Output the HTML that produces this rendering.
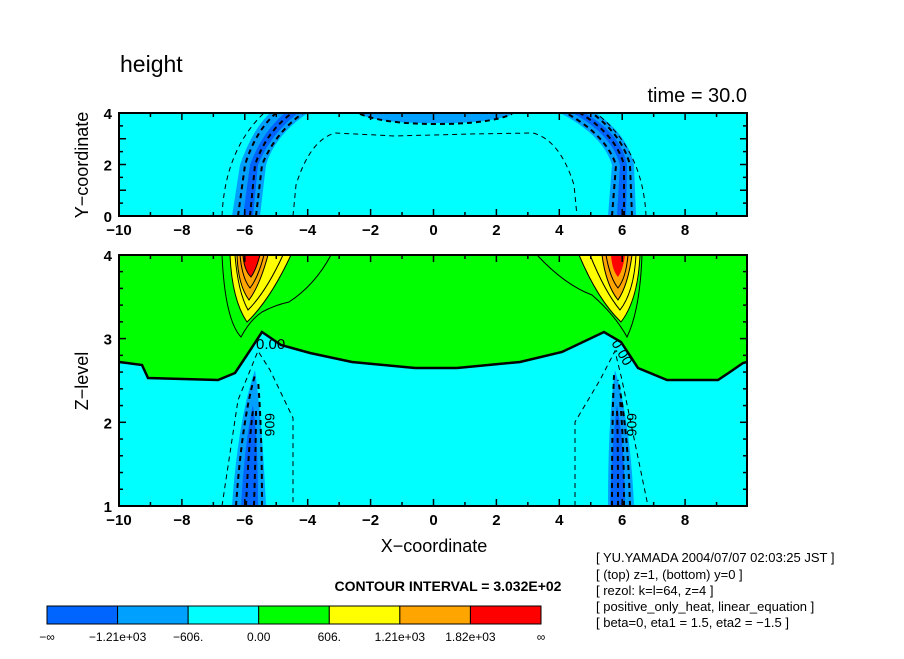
<!DOCTYPE html>
<html><head><meta charset="utf-8">
<style>
body{margin:0;background:#fff;}
svg text{font-family:"Liberation Sans",sans-serif;}
</style></head>
<body>
<svg id="c" width="904" height="654" viewBox="0 0 904 654" xmlns="http://www.w3.org/2000/svg">
<rect width="904" height="654" fill="#fff"/>
<text x="120" y="72" font-size="23">height</text>
<text x="747" y="102" font-size="20" text-anchor="end">time = 30.0</text>

<!-- top panel -->
<g>
<rect x="119" y="113" width="628" height="103" fill="#00ffff"/>
<path d="M232,216 L240,165 Q252,130 270,113 L308,113 Q275,135 266,165 L260,216Z" fill="#00a0ff"/>
<path d="M243,216 L250,165 Q262,132 285,113 L298,113 Q270,135 258,165 L253,216Z" fill="#0064ff"/>
<path d="M608,216 L612,165 Q603,135 560,113 L596,113 Q628,135 634,165 L636,216Z" fill="#00a0ff"/>
<path d="M617,216 L620,165 Q612,135 573,113 L585,113 Q622,135 627,165 L626,216Z" fill="#0064ff"/>
<path d="M356,113 Q380,124 436,123 Q490,124 516,113Z" fill="#00a0ff"/>
<g fill="none" stroke="#000" stroke-dasharray="5,4">
<path d="M222,216 Q225,150 264,113" stroke-width="1"/>
<path d="M293,216 L296,185 Q310,140 335,133 L395,136 L470,134 L533,133 Q560,140 574,185 L577,216" stroke-width="1"/>
<path d="M646,216 Q643,150 596,113" stroke-width="1"/>
<path d="M238,216 L245,165 Q255,132 276,113 M250,216 L255,165 Q266,132 292,113 M256,216 L262,165 Q275,133 303,113" stroke-width="2"/>
<path d="M612,216 L616,165 Q606,135 566,113 M624,216 L624,165 Q616,135 580,113 M632,216 L630,165 Q622,135 592,113" stroke-width="2"/>
<path d="M360,114 Q385,124 436,124 Q490,124 512,114" stroke-width="2"/>
</g>
<rect x="119" y="113" width="628" height="103" fill="none" stroke="#000" stroke-width="2"/>
</g>

<!-- bottom panel -->
<g>
<rect x="119" y="255" width="628" height="251" fill="#00ff00"/>
<path d="M119,362 L142,365 L148,378 L218,380 L235,373 L247,355 L262,332 L281,345 L310,353 L352,362 L415,368 L457,368 L520,362 L562,352 L604,332 L621,342 L638,368 L667,380 L718,380 L730,372 L743,363 L747,362 L747,506 L119,506Z" fill="#00ffff"/>
<path d="M230,255 L291,255 Q270,300 247,322 Q232,300 230,255Z" fill="#ffff00"/>
<path d="M237,255 L268,255 Q260,285 249,300 Q238,285 237,255Z" fill="#ffa500"/>
<path d="M243,255 L260,255 Q256,270 251,277 Q244,270 243,255Z" fill="#ff0000"/>
<path d="M579,255 L640,255 Q638,300 621,322 Q598,300 579,255Z" fill="#ffff00"/>
<path d="M602,255 L632,255 Q628,285 618,300 Q606,285 602,255Z" fill="#ffa500"/>
<path d="M611,255 L625,255 Q623,270 618,277 Q612,270 611,255Z" fill="#ff0000"/>
<g fill="none" stroke="#000" stroke-width="1">
<path d="M230,255 Q232,300 247,322 Q270,300 291,255"/>
<path d="M235,255 Q238,292 248,310 Q266,292 283,255"/>
<path d="M237,255 Q238,285 249,300 Q260,285 268,255"/>
<path d="M240,255 Q242,278 250,288 Q258,278 264,255"/>
<path d="M243,255 Q244,270 251,277 Q256,270 260,255"/>
<path d="M579,255 Q598,300 621,322 Q638,300 640,255"/>
<path d="M590,255 Q605,292 620,310 Q634,292 636,255"/>
<path d="M602,255 Q606,285 618,300 Q628,285 632,255"/>
<path d="M606,255 Q610,278 618,288 Q626,278 628,255"/>
<path d="M222,255 Q225,320 241,337 Q250,320 262,312 Q275,305 289,302 Q315,285 331,255"/>
<path d="M537,255 Q565,285 592,295 Q615,315 627,337 Q640,310 642,255"/>
</g>
<path d="M119,362 L142,365 L148,378 L218,380 L235,373 L247,355 L262,332 L281,345 L310,353 L352,362 L415,368 L457,368 L520,362 L562,352 L604,332 L621,342 L638,368 L667,380 L718,380 L730,372 L743,363 L747,362" fill="none" stroke="#000" stroke-width="2.5"/>
<path d="M232,506 Q238,420 255,370 Q262,420 266,506Z" fill="#00a0ff"/>
<path d="M241,506 Q245,440 253,405 Q258,440 258,506Z" fill="#0064ff"/>
<path d="M608,506 Q608,420 615,370 Q630,420 634,506Z" fill="#00a0ff"/>
<path d="M610,506 Q612,440 617,405 Q624,440 625,506Z" fill="#0064ff"/>
<g fill="none" stroke="#000" stroke-dasharray="5,4">
<path d="M222,506 L238,400 L258,351 L270,370 L293,418 L293,506" stroke-width="1"/>
<path d="M575,506 L575,422 L600,380 L615,351 L622,380 L648,506" stroke-width="1"/>
<path d="M236,506 Q242,420 255,375 M246,506 Q249,440 253,410 M254,506 Q256,440 256,410 M262,506 Q262,430 258,380" stroke-width="2"/>
<path d="M612,506 Q612,420 614,375 M618,506 Q618,440 617,410 M624,506 Q624,440 620,400 M630,506 Q628,430 618,380" stroke-width="2"/>
</g>
<text x="256" y="349" font-size="15">0.00</text>
<text x="0" y="0" font-size="14" transform="translate(611,343) rotate(60)">0.00</text>
<text x="0" y="0" font-size="14" transform="translate(265,413) rotate(90)">606</text>
<text x="0" y="0" font-size="14" transform="translate(627,413) rotate(90)">606</text>
<rect x="119" y="255" width="628" height="251" fill="none" stroke="#000" stroke-width="2"/>
</g>

<g id="axes"></g>
<text x="0" y="0" font-size="18" text-anchor="middle" transform="translate(88,165) rotate(-90)">Y−coordinate</text>
<text x="0" y="0" font-size="18" text-anchor="middle" transform="translate(88,381) rotate(-90)">Z−level</text>
<text x="434" y="552" font-size="18" text-anchor="middle">X−coordinate</text>
<text x="448" y="591" font-size="14" font-weight="bold" text-anchor="middle">CONTOUR INTERVAL = 3.032E+02</text>
<g id="cbar"></g>
<g font-size="13">
<text x="596" y="562">[ YU.YAMADA 2004/07/07 02:03:25 JST ]</text>
<text x="596" y="579">[ (top) z=1, (bottom) y=0 ]</text>
<text x="596" y="595">[ rezol: k=l=64, z=4 ]</text>
<text x="596" y="611">[ positive_only_heat, linear_equation ]</text>
<text x="596" y="627">[ beta=0, eta1 = 1.5, eta2 = −1.5 ]</text>
</g>
</svg>
<script>
const xTicks=[-10,-8,-6,-4,-2,0,2,4,6,8];
const yTicksTop=[0,2,4];
const zTicks=[1,2,3,4];
const cbarColors=["#0064ff","#00a0ff","#00ffff","#00ff00","#ffff00","#ffa500","#ff0000"];
const cbarLabels=["−∞","−1.21e+03","−606.","0.00","606.","1.21e+03","1.82e+03","∞"];
const NS="http://www.w3.org/2000/svg";
const X=v=>119+(v+10)*31.45;
const YT=v=>216-v*25.75;
const Z=v=>506-(v-1)*83.7;
const ax=document.getElementById('axes');
function mk(tag,at,p){const e=document.createElementNS(NS,tag);for(const k in at)e.setAttribute(k,at[k]);(p||ax).appendChild(e);return e;}
function line(x1,y1,x2,y2){const l=mk('line',{x1,y1,x2,y2,stroke:'#000','stroke-width':1.5});

}
function txt(x,y,s,anchor,name){const t=mk('text',{x,y,'font-size':15,'font-weight':'bold','text-anchor':anchor});t.textContent=s;

}
for(let v=-10;v<=9;v++){const big=v%2===0;const L=big?7:4;
 line(X(v),216,X(v),216-L);line(X(v),113,X(v),113+L);
 line(X(v),506,X(v),506-L);line(X(v),255,X(v),255+L);}
xTicks.forEach(v=>{txt(X(v),235,String(v).replace('-','−'),'middle','x-tick-label-top');txt(X(v),525,String(v).replace('-','−'),'middle','x-tick-label-bottom');});
for(let v=0;v<=4;v+=0.5){const L=v%1===0?7:4;line(119,YT(v),119+L,YT(v));line(747,YT(v),747-L,YT(v));}
yTicksTop.forEach(v=>txt(112,YT(v)+6,String(v),'end','y-tick-label'));
for(let v=1;v<=4;v+=0.2){const big=Math.abs(v-Math.round(v))<0.01;const L=big?7:4;line(119,Z(v),119+L,Z(v));line(747,Z(v),747-L,Z(v));}
zTicks.forEach(v=>txt(112,Z(v)+6,String(v),'end','z-tick-label'));
const cb=document.getElementById('cbar');
const w=(541-47)/cbarColors.length;
cbarColors.forEach((c,i)=>{const r=mk('rect',{x:47+i*w,y:606,width:w,height:18,fill:c,stroke:'#000','stroke-width':1},cb);

});
cbarLabels.forEach((s,i)=>{const t=mk('text',{x:47+i*w,y:641,'font-size':12,'text-anchor':'middle'},cb);t.textContent=s;

});
</script>
</body></html>
